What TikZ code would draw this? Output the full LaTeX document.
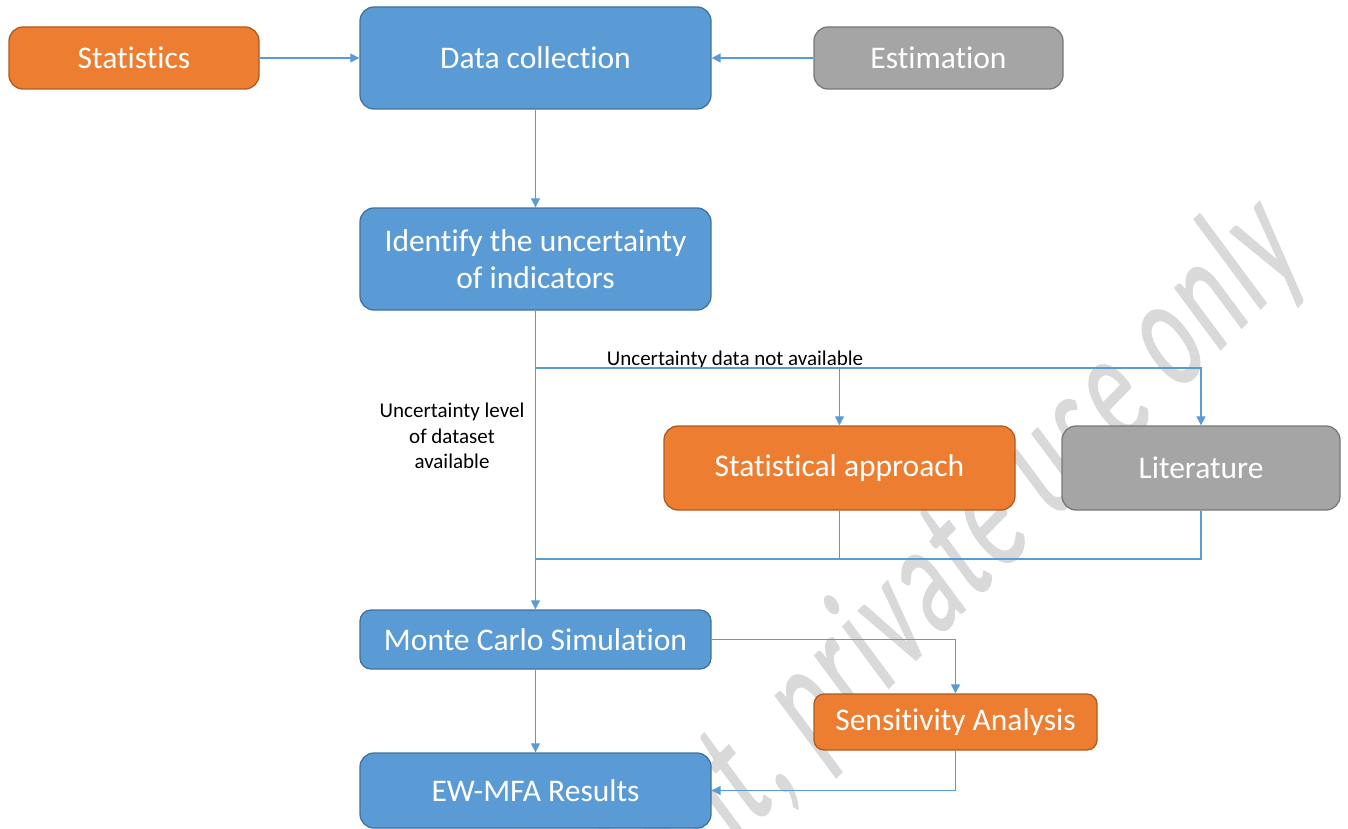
\documentclass[tikz,border=0pt]{standalone}
\usepackage{fontspec}
\setmainfont{Carlito}[Ligatures={NoCommon}]
\newfontfamily\wmfont{Carlito}[Ligatures={NoCommon},FakeBold=1.2,LetterSpace=6]
\usetikzlibrary{arrows.meta}
\definecolor{bfill}{HTML}{5B9BD5}
\definecolor{bdraw}{HTML}{41719C}
\definecolor{ofill}{HTML}{ED7D31}
\definecolor{odraw}{HTML}{AE5A21}
\definecolor{gfill}{HTML}{A5A5A5}
\definecolor{gdraw}{HTML}{787878}
\definecolor{wmark}{HTML}{D9D9D9}
\tikzset{
  box/.style={rounded corners=14pt, line width=1.3pt, text=white, inner sep=0pt,
    align=center, font=\fontsize{31.5}{37}\selectfont},
  bluebox/.style={box, fill=bfill, draw=bdraw},
  orangebox/.style={box, fill=ofill, draw=odraw},
  graybox/.style={box, fill=gfill, draw=gdraw},
  conn/.style={draw=bfill, line width=1.1pt, -{Triangle[width=9pt,length=9pt]}},
  plain/.style={draw=bfill, line width=1.1pt},
  lbl/.style={font=\fontsize{21}{25.5}\selectfont, align=center, inner sep=0pt}
}
\begin{document}
\begin{tikzpicture}[x=1pt,y=-1pt]
\useasboundingbox (0,0) rectangle (1348,829);
\begin{scope}
\clip (0,0) rectangle (1348,829);
\node[cm={0.70,0.714,-0.98,1.32,(0,0)}, anchor=base east, text=wmark, inner sep=0pt,
  font=\wmfont\fontsize{97}{97}\selectfont] (wm) at (1306,262) {Copyright, private use only};
\end{scope}
% nodes
\node[orangebox, minimum width=250pt, minimum height=62pt] (stat) at (134,58) {Statistics};
\node[bluebox, minimum width=351pt, minimum height=102pt] (dc) at (535.5,58) {Data collection};
\node[graybox, minimum width=249pt, minimum height=62pt] (est) at (938.5,58) {Estimation};
\node[bluebox, minimum width=351pt, minimum height=102pt] (idf) at (535.5,259) {Identify the uncertainty\\of indicators};
\node[orangebox, minimum width=351pt, minimum height=84pt] (sa) at (839.5,468) {Statistical approach};
\node[graybox, minimum width=278pt, minimum height=84pt] (lit) at (1201,468) {Literature};
\node[bluebox, rounded corners=11pt, minimum width=351pt, minimum height=59pt] (mc) at (535.5,639.5) {Monte Carlo Simulation};
\node[orangebox, rounded corners=10pt, minimum width=283pt, minimum height=56pt] (sens) at (955.5,722) {Sensitivity Analysis};
\node[bluebox, minimum width=351pt, minimum height=75pt] (ew) at (535.5,790.5) {EW-MFA Results};
% labels
\node[lbl, anchor=base] (l1) at (735,365) {Uncertainty data not available};
\node[lbl] (l2) at (452,436) {Uncertainty level\\of dataset\\available};
% helper coordinates
\coordinate (br) at (535.5,368);
\coordinate (jn) at (535.5,559);
% connectors
\draw[conn] (stat.east) -- (dc.west);
\draw[conn] (est.west) -- (dc.east);
\draw[conn] (dc.south) -- (idf.north);
\draw[conn] (idf.south) -- (mc.north);
\draw[conn] (br) -| (lit.north);
\draw[conn] (sa.north |- br) -- (sa.north);
\draw[plain] (sa.south) |- (jn);
\draw[plain] (lit.south) |- (sa.south |- jn);
\draw[conn] (mc.east) -| (sens.north);
\draw[conn] (mc.south) -- (ew.north);
\draw[conn] (sens.south) |- (ew.east);
\end{tikzpicture}
\end{document}
